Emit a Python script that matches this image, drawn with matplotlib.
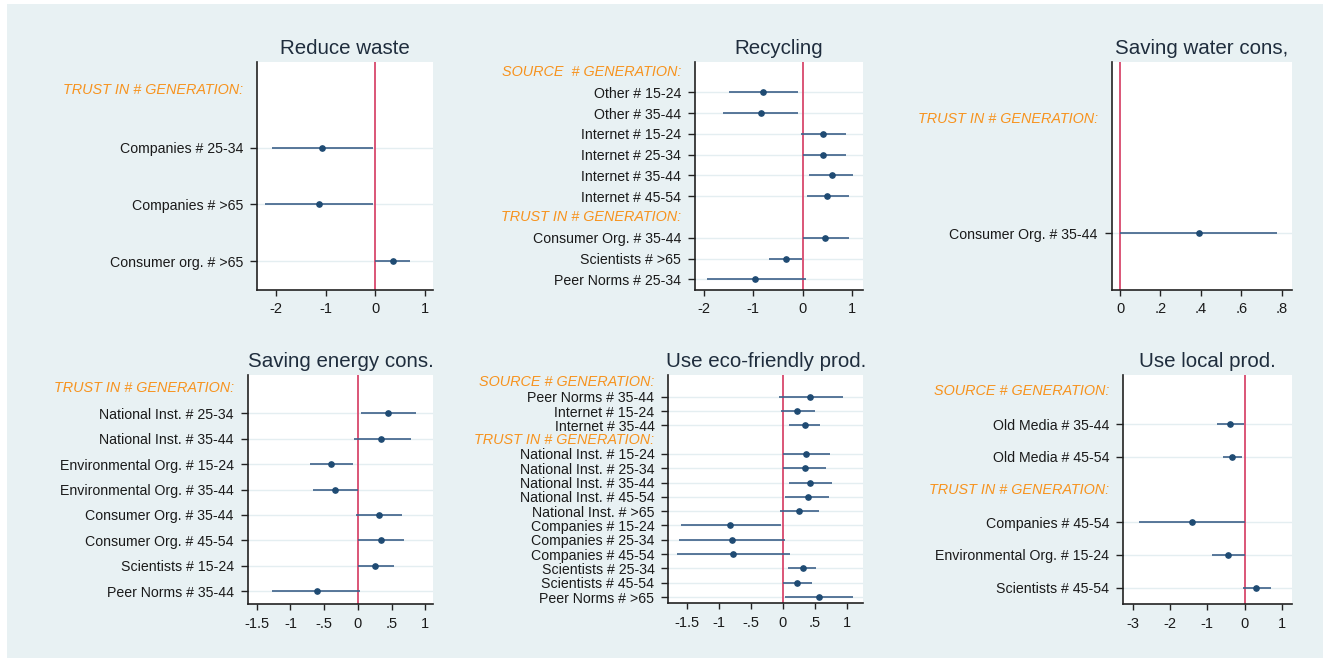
import numpy as np
import matplotlib
matplotlib.use("Agg")
import matplotlib.pyplot as plt
from matplotlib.patches import Rectangle

plt.rcParams['font.family'] = ['Liberation Sans', 'DejaVu Sans']

H = None  # marks a group-header row (no estimate)

# ---------------- data ----------------
waste_title = "Reduce waste"
waste_labels = ["TRUST IN # GENERATION:", "Companies # 25-34", "Companies # >65",
                "Consumer org. # >65"]
waste_est = [H, -1.07, -1.13, 0.36]
waste_lo = [H, -2.08, -2.22, 0.00]
waste_hi = [H, -0.05, -0.05, 0.70]
waste_ticks = [-2, -1, 0, 1]
waste_ticklabels = ["-2", "-1", "0", "1"]

recyc_title = "Recycling"
recyc_labels = ["SOURCE  # GENERATION:", "Other # 15-24", "Other # 35-44",
                "Internet # 15-24", "Internet # 25-34", "Internet # 35-44",
                "Internet # 45-54", "TRUST IN # GENERATION:",
                "Consumer Org. # 35-44", "Scientists # >65", "Peer Norms # 25-34"]
recyc_est = [H, -0.80, -0.85, 0.42, 0.42, 0.59, 0.50, H, 0.45, -0.34, -0.96]
recyc_lo = [H, -1.49, -1.62, -0.03, 0.00, 0.13, 0.08, H, 0.00, -0.68, -1.94]
recyc_hi = [H, -0.10, -0.10, 0.88, 0.88, 1.01, 0.93, H, 0.93, -0.01, 0.07]
recyc_ticks = [-2, -1, 0, 1]
recyc_ticklabels = ["-2", "-1", "0", "1"]

water_title = "Saving water cons,"
water_labels = ["TRUST IN # GENERATION:", "Consumer Org. # 35-44"]
water_est = [H, 0.39]
water_lo = [H, 0.00]
water_hi = [H, 0.777]
water_ticks = [0, 0.2, 0.4, 0.6, 0.8]
water_ticklabels = ["0", ".2", ".4", ".6", ".8"]

energy_title = "Saving energy cons."
energy_labels = ["TRUST IN # GENERATION:", "National Inst. # 25-34",
                 "National Inst. # 35-44", "Environmental Org. # 15-24",
                 "Environmental Org. # 35-44", "Consumer Org. # 35-44",
                 "Consumer Org. # 45-54", "Scientists # 15-24", "Peer Norms # 35-44"]
energy_est = [H, 0.45, 0.35, -0.40, -0.34, 0.31, 0.35, 0.25, -0.61]
energy_lo = [H, 0.045, -0.06, -0.71, -0.67, -0.02, 0.00, 0.00, -1.28]
energy_hi = [H, 0.87, 0.79, -0.07, 0.00, 0.65, 0.69, 0.53, 0.03]
energy_ticks = [-1.5, -1, -0.5, 0, 0.5, 1]
energy_ticklabels = ["-1.5", "-1", "-.5", "0", ".5", "1"]

eco_title = "Use eco-friendly prod."
eco_labels = ["SOURCE # GENERATION:", "Peer Norms # 35-44", "Internet # 15-24",
              "Internet # 35-44", "TRUST IN # GENERATION:", "National Inst. # 15-24",
              "National Inst. # 25-34", "National Inst. # 35-44",
              "National Inst. # 45-54", "National Inst. # >65", "Companies # 15-24",
              "Companies # 25-34", "Companies # 45-54", "Scientists # 25-34",
              "Scientists # 45-54", "Peer Norms # >65"]
eco_est = [H, 0.43, 0.22, 0.35, H, 0.36, 0.35, 0.43, 0.39, 0.26, -0.82, -0.80,
           -0.78, 0.31, 0.22, 0.57]
eco_lo = [H, -0.06, -0.03, 0.10, H, 0.01, 0.00, 0.10, 0.04, -0.04, -1.59, -1.63,
          -1.65, 0.09, 0.01, 0.04]
eco_hi = [H, 0.95, 0.50, 0.59, H, 0.74, 0.68, 0.77, 0.72, 0.57, -0.03, 0.04,
          0.11, 0.52, 0.45, 1.10]
eco_ticks = [-1.5, -1, -0.5, 0, 0.5, 1]
eco_ticklabels = ["-1.5", "-1", "-.5", "0", ".5", "1"]

local_title = "Use local prod."
local_labels = ["SOURCE # GENERATION:", "Old Media # 35-44", "Old Media # 45-54",
                "TRUST IN # GENERATION:", "Companies # 45-54",
                "Environmental Org. # 15-24", "Scientists # 45-54"]
local_est = [H, -0.38, -0.34, H, -1.41, -0.45, 0.30]
local_lo = [H, -0.75, -0.57, H, -2.83, -0.87, -0.04]
local_hi = [H, -0.01, -0.07, H, 0.00, 0.00, 0.70]
local_ticks = [-3, -2, -1, 0, 1]
local_ticklabels = ["-3", "-2", "-1", "0", "1"]

# ---------------- style ----------------
W, HGT = 1330, 658
BG = '#e8f1f3'
NAVY = '#1f4b73'
CI_COL = '#3d6189'
RED = '#d8486c'
ORANGE = '#f7931e'
GRID = '#e4eef1'
TXT = '#1a1a1a'

fig = plt.figure(figsize=(W / 100, HGT / 100), dpi=100, facecolor='white')
fig.patches.append(Rectangle((7 / W, 0), (1323 - 7) / W, (HGT - 4) / HGT,
                             transform=fig.transFigure, facecolor=BG,
                             edgecolor='none', zorder=-10))


def frac(l, t, r, b):
    return [l / W, 1 - b / HGT, (r - l) / W, (b - t) / HGT]


def panel(box, xlim, ylim, title, labels, est, lo, hi, ticks, ticklabels):
    ax = fig.add_axes(frac(*box))
    ax.set_facecolor('white')
    ax.set_xlim(*xlim)
    ax.set_ylim(*ylim)
    rows, rlabels = [], []
    for i, (lab, e, l, h) in enumerate(zip(labels, est, lo, hi)):
        if e is None:
            ax.annotate(lab, xy=(0, i), xycoords=('axes fraction', 'data'),
                        xytext=(-10, 0), textcoords='offset points',
                        ha='right', va='center', color=ORANGE, style='italic',
                        fontsize=10.4)
            continue
        rows.append(i)
        rlabels.append(lab)
        ax.axhline(i, color=GRID, lw=1.0, zorder=0.5)
        ax.hlines(i, l, h, color=CI_COL, lw=1.2, zorder=2)
        ax.plot([e], [i], marker='o', ms=3.8, color=NAVY, zorder=3, ls='none')
    ax.axvline(0, color=RED, lw=1.3, zorder=1.5)
    ax.set_yticks(rows)
    ax.set_yticklabels(rlabels)
    ax.set_xticks(ticks)
    ax.set_xticklabels(ticklabels)
    for s in ('top', 'right'):
        ax.spines[s].set_visible(False)
    for s in ('left', 'bottom'):
        ax.spines[s].set_linewidth(1.2)
        ax.spines[s].set_color('#222222')
    ax.tick_params(axis='y', length=5, width=1.0, pad=5, labelsize=10.2,
                   labelcolor=TXT, color='#222222')
    ax.tick_params(axis='x', length=4, width=1.0, pad=5, labelsize=10.5,
                   labelcolor=TXT, color='#222222')
    ax.set_title(title, fontsize=14.8, color='#1f2d3d', pad=5.5)
    return ax


panel((257, 62, 433, 290), (-2.38, 1.16), (3.5, -0.5), waste_title,
      waste_labels, waste_est, waste_lo, waste_hi, waste_ticks, waste_ticklabels)
panel((695, 62, 863, 290), (-2.18, 1.22), (10.51, -0.46), recyc_title,
      recyc_labels, recyc_est, recyc_lo, recyc_hi, recyc_ticks, recyc_ticklabels)
panel((1111.7, 62, 1292.3, 290), (-0.041, 0.851), (1.5, -0.5), water_title,
      water_labels, water_est, water_lo, water_hi, water_ticks, water_ticklabels)
panel((247.7, 375, 433.3, 604), (-1.634, 1.12), (8.5, -0.5), energy_title,
      energy_labels, energy_est, energy_lo, energy_hi, energy_ticks,
      energy_ticklabels)
panel((668.3, 375, 863.3, 603.3), (-1.79, 1.26), (15.44, -0.52), eco_title,
      eco_labels, eco_est, eco_lo, eco_hi, eco_ticks, eco_ticklabels)
panel((1123.3, 375, 1292.3, 604), (-3.25, 1.28), (6.5, -0.5), local_title,
      local_labels, local_est, local_lo, local_hi, local_ticks, local_ticklabels)

fig.savefig('out.png', dpi=100, facecolor='white')
